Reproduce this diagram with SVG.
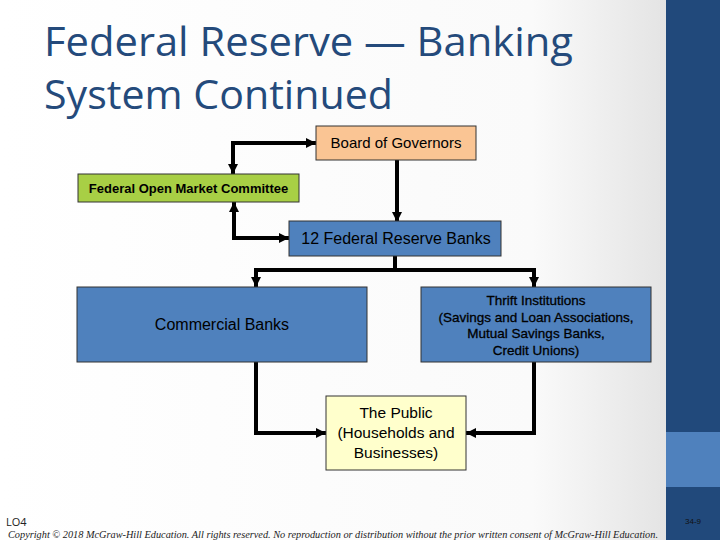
<svg xmlns="http://www.w3.org/2000/svg" width="720" height="540" viewBox="0 0 720 540">
<defs>
<linearGradient id="bg" x1="0" y1="0" x2="1" y2="0">
<stop offset="0" stop-color="#ffffff"/>
<stop offset="0.8" stop-color="#fafafa"/>
<stop offset="1" stop-color="#e4e4e4"/>
</linearGradient>
<marker id="ah" viewBox="0 0 10 10" refX="10" refY="5" markerWidth="10" markerHeight="10" markerUnits="userSpaceOnUse" orient="auto-start-reverse">
<path d="M0,0 L10,5 L0,10 z" fill="#000"/>
</marker>
<style>
.title{font-family:"Open Sans","Liberation Sans",sans-serif;font-size:41px;fill:#244a7b;}
.box{stroke:#333;stroke-width:1;}
.lbl{font-family:"Liberation Sans",Arial,sans-serif;fill:#000;text-anchor:middle;}
.con{fill:none;stroke:#000;stroke-width:4;}
.arr{marker-end:url(#ah);}
.both{marker-start:url(#ah);marker-end:url(#ah);}
</style>
</defs>
<rect x="0" y="0" width="666" height="540" fill="url(#bg)"/>
<rect x="666" y="0" width="54" height="540" fill="#21497b"/>
<rect x="666" y="432" width="54" height="55" fill="#4f81bd"/>
<text class="title" x="44" y="56" textLength="529" lengthAdjust="spacingAndGlyphs">Federal Reserve — Banking</text>
<text class="title" x="44" y="109" textLength="349" lengthAdjust="spacingAndGlyphs">System Continued</text>

<g id="connectors">
<polyline class="con both" points="233,174 233,143 316,143"/>
<line class="con arr" x1="397" y1="160" x2="397" y2="222"/>
<polyline class="con both" points="234,202 234,238 289,238"/>
<line class="con" x1="395" y1="256" x2="395" y2="272"/>
<polyline class="con both" points="256,287 256,270 534,270 534,287"/>
<polyline class="con arr" points="256,362 256,433 326,433"/>
<polyline class="con arr" points="534,362 534,433 466,433"/>
</g>

<g id="board">
<rect class="box" x="316" y="126" width="160" height="34" fill="#fac594"/>
<text class="lbl" x="396" y="148" font-size="15">Board of Governors</text>
</g>
<g id="fomc">
<rect class="box" x="78" y="174" width="221" height="28" fill="#a8cf45"/>
<text class="lbl" x="188.5" y="193" font-size="13" font-weight="bold">Federal Open Market Committee</text>
</g>
<g id="frb">
<rect class="box" x="289" y="221" width="212" height="35" fill="#4f81bd"/>
<text class="lbl" x="396" y="244" font-size="16">12 Federal Reserve Banks</text>
</g>
<g id="commercial">
<rect class="box" x="77" y="287" width="290" height="75" fill="#4f81bd"/>
<text class="lbl" x="222" y="330" font-size="16">Commercial Banks</text>
</g>
<g id="thrift">
<rect class="box" x="421" y="287" width="230" height="75" fill="#4f81bd"/>
<text class="lbl" x="536" y="305" font-size="13.5" stroke="#000" stroke-width="0.3">Thrift Institutions</text>
<text class="lbl" x="536" y="321.5" font-size="13.5" stroke="#000" stroke-width="0.3">(Savings and Loan Associations,</text>
<text class="lbl" x="536" y="338" font-size="13.5" stroke="#000" stroke-width="0.3">Mutual Savings Banks,</text>
<text class="lbl" x="536" y="354.5" font-size="13.5" stroke="#000" stroke-width="0.3">Credit Unions)</text>
</g>
<g id="public">
<rect class="box" x="326" y="396" width="140" height="74" fill="#ffffcc"/>
<text class="lbl" x="396" y="418" font-size="15.5">The Public</text>
<text class="lbl" x="396" y="438" font-size="15.5">(Households and</text>
<text class="lbl" x="396" y="458" font-size="15.5">Businesses)</text>
</g>

<text x="6" y="526" font-family="Open Sans,Liberation Sans,sans-serif" font-size="11" fill="#222">LO4</text>
<text x="8" y="538" font-family="Liberation Serif,serif" font-style="italic" font-size="9.5" fill="#222" textLength="650" lengthAdjust="spacingAndGlyphs">Copyright © 2018 McGraw-Hill Education. All rights reserved. No reproduction or distribution without the prior written consent of McGraw-Hill Education.</text>
<text x="693" y="524" font-family="Liberation Sans,sans-serif" font-size="8" fill="#111" text-anchor="middle">34-9</text>
</svg>
